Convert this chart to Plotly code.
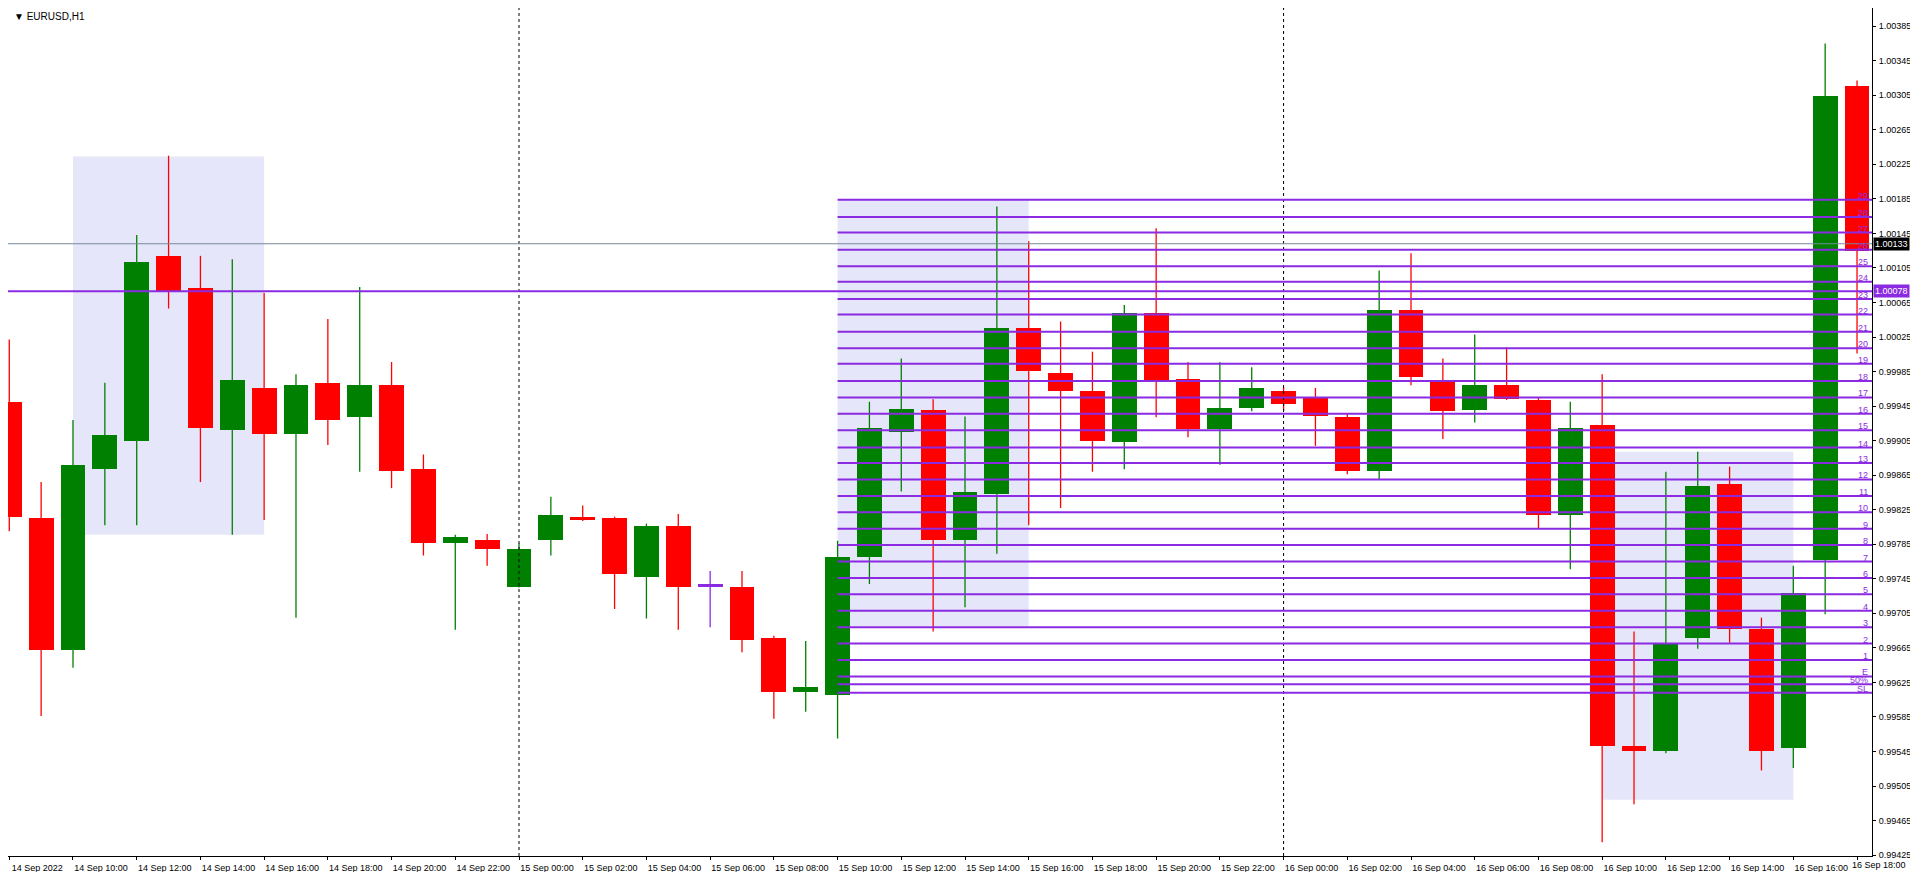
import plotly.graph_objects as go

# hourly candles, 14 Sep 2022 08:00 .. 16 Sep 2022 18:00 (index = hours since 14 Sep 08:00)
opens = [0.99950, 0.99815, 0.99662, 0.99872, 0.99905, 1.00119, 1.00082, 0.99917, 0.99966, 0.99913,
         0.99972, 0.99932, 0.99969, 0.99872, 0.99787, 0.99790, 0.99736, 0.99790, 0.99816, 0.99815,
         0.99747, 0.99806, 0.99736, 0.99736, 0.99676, 0.99614, 0.99610, 0.99770, 0.99915, 0.99940,
         0.99790, 0.99843, 1.00036, 0.99983, 0.99962, 0.99903, 1.00053, 0.99976, 0.99919, 0.99943,
         0.99962, 0.99956, 0.99932, 0.99870, 1.00056, 0.99975, 0.99940, 0.99970, 0.99952, 0.99819,
         0.99923, 0.99551, 0.99546, 0.99676, 0.99855, 0.99687, 0.99549, 0.99767, 1.00316]
highs = [1.00022, 0.99857, 0.99929, 0.99972, 1.00143, 1.00235, 1.00119, 1.00115, 1.00076, 0.99982,
         1.00046, 1.00083, 0.99996, 0.99889, 0.99796, 0.99797, 0.99786, 0.99840, 0.99830, 0.99817,
         0.99809, 0.99820, 0.99754, 0.99754, 0.99679, 0.99673, 0.99789, 0.99950, 1.00000, 0.99953,
         0.99933, 1.00176, 1.00136, 1.00043, 1.00008, 1.00062, 1.00151, 0.99996, 0.99996, 0.99990,
         0.99967, 0.99966, 0.99936, 1.00102, 1.00122, 1.00000, 1.00028, 1.00013, 0.99955, 0.99950,
         0.99982, 0.99684, 0.99869, 0.99892, 0.99875, 0.99700, 0.99760, 1.00365, 1.00322]
lows = [0.99800, 0.99586, 0.99642, 0.99807, 0.99807, 1.00058, 0.99857, 0.99796, 0.99813, 0.99700,
        0.99900, 0.99869, 0.99850, 0.99772, 0.99686, 0.99760, 0.99735, 0.99772, 0.99812, 0.99710,
        0.99699, 0.99686, 0.99689, 0.99660, 0.99583, 0.99591, 0.99560, 0.99739, 0.99846, 0.99684,
        0.99712, 0.99774, 0.99807, 0.99827, 0.99869, 0.99872, 0.99932, 0.99909, 0.99877, 0.99939,
        0.99940, 0.99899, 0.99866, 0.99860, 0.99969, 0.99907, 0.99926, 0.99952, 0.99803, 0.99756,
        0.99440, 0.99484, 0.99543, 0.99664, 0.99671, 0.99523, 0.99526, 0.99704, 1.00006]
closes = [0.99817, 0.99662, 0.99877, 0.99912, 1.00112, 1.00078, 0.99920, 0.99975, 0.99913, 0.99970,
          0.99929, 0.99969, 0.99870, 0.99786, 0.99793, 0.99779, 0.99779, 0.99819, 0.99813, 0.99750,
          0.99806, 0.99735, 0.99736, 0.99674, 0.99614, 0.99620, 0.99770, 0.99920, 0.99942, 0.99790,
          0.99845, 1.00036, 0.99986, 0.99963, 0.99905, 1.00053, 0.99975, 0.99919, 0.99943, 0.99966,
          0.99948, 0.99933, 0.99870, 1.00056, 0.99979, 0.99939, 0.99970, 0.99953, 0.99819, 0.99920,
          0.99551, 0.99546, 0.99670, 0.99853, 0.99687, 0.99546, 0.99729, 1.00304, 1.00125]

tick_hours = list(range(0, 59, 2))
tick_labels = ["14 Sep 2022"] + [f"14 Sep {h:02d}:00" for h in range(10, 24, 2)] \
    + [f"15 Sep {h:02d}:00" for h in range(0, 24, 2)] + [f"16 Sep {h:02d}:00" for h in range(0, 20, 2)]

price_ticks = [0.99425, 0.99465, 0.99505, 0.99545, 0.99585, 0.99625, 0.99665, 0.99705, 0.99745,
               0.99785, 0.99825, 0.99865, 0.99905, 0.99945, 0.99985, 1.00025, 1.00065, 1.00105,
               1.00145, 1.00185, 1.00225, 1.00265, 1.00305, 1.00345, 1.00385]

# grid levels drawn from 15 Sep 10:00
level_names = [str(i) for i in range(29, 0, -1)] + ["E", "50%", "SL"]
level_prices = [1.00184, 1.00164, 1.00146, 1.00126, 1.00107, 1.00089, 1.00069, 1.00051, 1.00031,
                1.00012, 0.99994, 0.99974, 0.99955, 0.99936, 0.99917, 0.99897, 0.99879, 0.99860,
                0.99841, 0.99822, 0.99803, 0.99784, 0.99765, 0.99746, 0.99727, 0.99708, 0.99689,
                0.99670, 0.99651, 0.99632, 0.99623, 0.99613]
level_start = 26

# shaded zones: (start hour, end hour, top, bottom)
zone_x0 = [2, 26, 50]
zone_x1 = [8, 32, 56]
zone_top = [1.00234, 1.00184, 0.99892]
zone_bot = [0.99796, 0.99690, 0.99489]

day_breaks = [16, 40]
bid_price = 1.00133
line_price = 1.00078

GREEN, RED, DOJI = "#008000", "#FF0000", "#8A2BE2"
PURPLE = "#8A2BE2"
FONT = "Liberation Sans"
X_START, X_END = -0.04, 58.47

fig = go.Figure()

cols = {"g": GREEN, "r": RED, "d": DOJI}
for key in cols:
    idx = [i for i in range(len(opens))
           if (key == "g" and closes[i] > opens[i]) or (key == "r" and closes[i] < opens[i])
           or (key == "d" and closes[i] == opens[i])]
    wx, wy = [], []
    for i in idx:
        wx += [i, i, None]
        wy += [lows[i], highs[i], None]
    fig.add_trace(go.Scatter(x=wx, y=wy, mode="lines", line=dict(color=cols[key], width=1.3),
                             hoverinfo="skip", showlegend=False))
    fig.add_trace(go.Bar(x=idx, base=[min(opens[i], closes[i]) for i in idx],
                         y=[max(abs(closes[i] - opens[i]), 0.000025) for i in idx],
                         width=0.78, marker=dict(color=cols[key], line=dict(width=0)),
                         showlegend=False))

shapes = []
for x0, x1, t, b in zip(zone_x0, zone_x1, zone_top, zone_bot):
    shapes.append(dict(type="rect", x0=x0, x1=x1, y0=b, y1=t, fillcolor="#E6E6FA",
                       line=dict(width=0), layer="below"))
for d in day_breaks:
    shapes.append(dict(type="line", x0=d, x1=d, y0=0, y1=1, yref="paper",
                       line=dict(color="black", width=1, dash="dot")))
shapes.append(dict(type="line", x0=0, x1=1, xref="paper", y0=bid_price, y1=bid_price,
                   line=dict(color="#778899", width=1)))
shapes.append(dict(type="line", x0=0, x1=1, xref="paper", y0=line_price, y1=line_price,
                   line=dict(color=PURPLE, width=2)))
for p in level_prices:
    shapes.append(dict(type="line", x0=level_start, x1=X_END, y0=p, y1=p,
                       line=dict(color=PURPLE, width=2)))

annotations = [dict(x=0.002, y=0.999, xref="paper", yref="paper", xanchor="left", yanchor="top",
                    text="▼ EURUSD,H1", showarrow=False,
                    font=dict(family=FONT, size=10, color="black"))]
for n, p in zip(level_names, level_prices):
    annotations.append(dict(x=0.999, y=p, xref="paper", yref="y", xanchor="right",
                            yanchor="bottom", text=n, showarrow=False, yshift=-3,
                            font=dict(family=FONT, size=9, color=PURPLE)))
for p, bg in [(bid_price, "black"), (line_price, PURPLE)]:
    annotations.append(dict(x=1.0, y=p, xref="paper", yref="y", xanchor="left", yanchor="middle",
                            text=f"{p:.5f}", showarrow=False, bgcolor=bg, borderpad=1, xshift=1,
                            font=dict(family=FONT, size=9, color="white")))
# last time label runs into the price scale, so it is placed by hand at the figure edge
annotations.append(dict(x=1.0, y=0, xref="paper", yref="paper", xanchor="right",
                        yanchor="top", yshift=-2, xshift=36, text=tick_labels[-1], showarrow=False,
                        font=dict(family=FONT, size=9, color="black")))
axis_labels = tick_labels[:-1] + [""]

fig.update_layout(
    width=1902, height=864, paper_bgcolor="white", plot_bgcolor="white",
    margin=dict(l=0, r=38, t=0, b=16, autoexpand=False), bargap=0, barmode="overlay",
    shapes=shapes, annotations=annotations, showlegend=False,
    font=dict(family=FONT, size=9, color="black"),
)
fig.update_xaxes(range=[X_START, X_END], tickvals=tick_hours, ticktext=axis_labels,
                 tickangle=0, showgrid=False, zeroline=False, showline=True, linecolor="black",
                 mirror=True, ticks="outside", ticklen=3, tickcolor="black", ticklabelshift=28,
                 ticklabelstandoff=0, tickfont=dict(family=FONT, size=9))
fig.update_yaxes(range=[0.99424, 1.00406], side="right", tickvals=price_ticks,
                 tickformat=".5f", showgrid=False, zeroline=False, showline=True,
                 linecolor="black", mirror=True, ticks="outside", ticklen=3, tickcolor="black",
                 ticklabelstandoff=1, tickfont=dict(family=FONT, size=9))

fig.write_html("out.html")
